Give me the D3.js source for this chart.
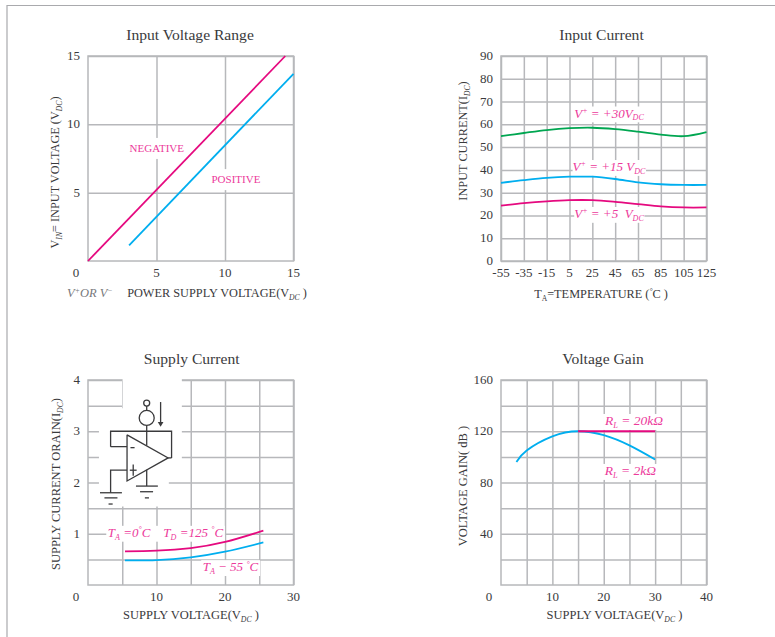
<!DOCTYPE html>
<html>
<head>
<meta charset="utf-8">
<script src="https://cdn.jsdelivr.net/npm/d3@7"></script>
<style>
html, body { margin: 0; padding: 0; background: #fff; }
svg { display: block; }
text { font-family: "Liberation Serif", serif; fill: #3a3a3c; }
</style>
</head>
<body>
<div id="chart"></div>
<script>
var width = 775,
    height = 637;
var PINK = "#e5097f",
    CYAN = "#00aeef",
    GREEN = "#00a651",
    LABEL = "#ec3a9b",
    GRID = "#b7b8bb";

// Input Voltage Range
var rangeSupply = [5, 10, 15];
var rangeNegativeX = [0, 14.4];
var rangeNegativeY = [0, 15];
var rangePositiveX = [3, 15];
var rangePositiveY = [1.15, 13.7];

// Input Current
var tempTicks = [-55, -35, -15, 5, 25, 45, 65, 85, 105, 125];
var currentTicks = [0, 10, 20, 30, 40, 50, 60, 70, 80, 90];
var current30 = [54.8, 56.2, 57.5, 58.3, 58.5, 57.9, 56.8, 55.5, 54.8, 56.6];
var current15 = [34.3, 35.5, 36.5, 37, 37, 36, 34.5, 33.7, 33.4, 33.4];
var current5 = [24.3, 25.4, 26.2, 26.7, 26.7, 26, 25, 24, 23.5, 23.5];

// Supply Current
var supplyX = [5.4, 10, 15, 20, 25.6];
var supplyHot = [0.655, 0.67, 0.72, 0.84, 1.06];
var supplyCold = [0.48, 0.485, 0.54, 0.65, 0.83];
var supplyGridX = [5, 10, 15, 20, 25, 30];
var supplyGridY = [0.5, 1, 1.5, 2, 2.5, 3, 3.5, 4];
var supplyLabelX = [10, 20, 30];
var supplyLabelY = [1, 2, 3, 4];

// Voltage Gain
var gainX = [3, 5, 10, 15, 20, 25, 30];
var gain2k = [96, 105, 116, 120, 117, 109, 98];
var gain20kX = [15, 30];
var gain20k = [120, 120];
var gainGridX = [5, 10, 15, 20, 25, 30, 35, 40];
var gainGridY = [20, 40, 60, 80, 100, 120, 140, 160];
var gainLabelX = [10, 20, 30, 40];
var gainLabelY = [40, 80, 120, 160];

var svg = d3.select("#chart").append("svg")
    .attr("width", width)
    .attr("height", height);

// page frame
svg.append("path")
    .attr("d", d3.line()([[7, height], [7, 5.5], [width, 5.5]]))
    .attr("fill", "none")
    .attr("stroke", "#a9aaad")
    .attr("stroke-width", 1.2);

// one panel: grid comes from the axes, labels are added separately
function panel(o) {
    var x = d3.scaleLinear().domain(o.xDomain).range([0, 205.5]);
    var y = d3.scaleLinear().domain(o.yDomain).range([205, 0]);
    var g = svg.append("g").attr("transform", "translate(" + o.left + "," + o.top + ")");

    g.append("g")
        .attr("transform", "translate(0,205)")
        .call(d3.axisBottom(x).tickValues(o.xGrid).tickSize(-205).tickFormat(""))
        .call(gridStyle);
    g.append("g")
        .call(d3.axisLeft(y).tickValues(o.yGrid).tickSize(-205.5).tickFormat(""))
        .call(gridStyle);

    g.append("rect")
        .attr("width", 205.5)
        .attr("height", 205)
        .attr("fill", "none")
        .attr("stroke", GRID)
        .attr("stroke-width", 1.5);

    g.append("text")
        .attr("x", o.titleX)
        .attr("y", -16.5)
        .attr("text-anchor", "middle")
        .style("font-size", "15.6px")
        .text(o.title);

    // tick labels
    g.selectAll(".xlab").data(o.xLabels).enter().append("text")
        .attr("x", function(d) { return x(d); })
        .attr("y", 221)
        .attr("text-anchor", "middle")
        .style("font-size", "13px")
        .text(function(d) { return d; });
    g.selectAll(".ylab").data(o.yLabels).enter().append("text")
        .attr("x", -8)
        .attr("y", function(d) { return y(d) + 4; })
        .attr("text-anchor", "end")
        .style("font-size", "13px")
        .text(function(d) { return d; });

    return { g: g, x: x, y: y };
}

function gridStyle(sel) {
    sel.select(".domain").remove();
    sel.selectAll("line").attr("stroke", GRID).attr("stroke-width", 1.5);
}

function curve(p, xs, ys, color, kind) {
    var line = d3.line()
        .x(function(d) { return p.x(d[0]); })
        .y(function(d) { return p.y(d[1]); })
        .curve(kind || d3.curveLinear);
    p.g.append("path")
        .attr("d", line(d3.zip(xs, ys)))
        .attr("fill", "none")
        .attr("stroke", color)
        .attr("stroke-width", 1.8);
}

// runs are [text, style]; style "i" italic, "s" italic subscript, "u" superscript, "b" plain subscript
function rich(parent, runs, size) {
    var t = parent.append("text").style("font-size", size + "px");
    var shift = 0;
    runs.forEach(function(r) {
        var want = r[1] === "s" || r[1] === "b" ? size * 0.22 : r[1] === "u" ? -size * 0.35 : 0;
        t.append("tspan")
            .attr("dy", want - shift)
            .style("font-size", (want ? size * 0.62 : size) + "px")
            .style("font-style", r[1] === "i" || r[1] === "s" || r[1] === "u" ? "italic" : "normal")
            .text(r[0]);
        shift = want;
    });
    return t;
}

// coloured note with a white patch that cuts the grid behind it
function note(p, xv, yv, runs, size, pad, padY) {
    var wrap = p.g.append("g");
    var patch = wrap.append("rect").attr("fill", "#fff");
    var t = rich(wrap, runs, size)
        .attr("x", p.x(xv))
        .attr("y", p.y(yv))
        .attr("text-anchor", "middle");
    t.style("fill", LABEL);
    t.selectAll("tspan").style("fill", LABEL);
    var b = t.node().getBBox();
    var py = padY || 0;
    patch.attr("x", b.x - pad).attr("y", b.y + 1 - py).attr("width", b.width + pad * 2).attr("height", b.height - 1 + py * 2);
}

function xTitle(p, cx, cy, runs, size) {
    rich(p.g, runs, size).attr("x", cx).attr("y", cy).attr("text-anchor", "middle");
}

function yTitle(p, cx, cy, runs, size) {
    rich(p.g, runs, size)
        .attr("text-anchor", "middle")
        .attr("transform", "translate(" + cx + "," + cy + ") rotate(-90)");
}

function cornerZero(p) {
    p.g.append("text")
        .attr("x", -12)
        .attr("y", 221)
        .attr("text-anchor", "middle")
        .style("font-size", "13px")
        .text("0");
}

// Input Voltage Range
var p1 = panel({
    left: 88, top: 56, xDomain: [0, 15], yDomain: [0, 15],
    xGrid: rangeSupply, yGrid: rangeSupply,
    xLabels: rangeSupply, yLabels: rangeSupply,
    title: "Input Voltage Range", titleX: 102
});
note(p1, 5.02, 7.98, [["NEGATIVE"]], 11, 1, 5);
note(p1, 10.8, 5.7, [["POSITIVE"]], 11, 1, 5);
curve(p1, rangeNegativeX, rangeNegativeY, PINK);
curve(p1, rangePositiveX, rangePositiveY, CYAN);
cornerZero(p1);
var v1 = rich(p1.g, [["V", "i"], ["+", "u"], ["OR V", "i"], ["\u2212", "u"]], 12.5).attr("x", -21).attr("y", 241);
v1.selectAll("tspan").style("fill", "#77787b");
xTitle(p1, 129, 241, [["POWER SUPPLY VOLTAGE(V"], ["DC", "s"], [" )"]], 12.3);
yTitle(p1, -29, 116.5, [["V"], ["IN", "s"], ["= INPUT VOLTAGE (V"], ["DC", "s"], [")"]], 12.3);

// Input Current
var p2 = panel({
    left: 501, top: 56, xDomain: [-55, 125], yDomain: [0, 90],
    xGrid: tempTicks, yGrid: currentTicks,
    xLabels: tempTicks, yLabels: currentTicks,
    title: "Input Current", titleX: 100.5
});
note(p2, 39.6, 63, [["V", "i"], ["+", "u"], [" = +30", "i"], ["V", "i"], ["DC", "s"]], 13, 0);
note(p2, 39.6, 39.5, [["V", "i"], ["+", "u"], [" = +15 ", "i"], ["V", "i"], ["DC", "s"]], 13, 0);
note(p2, 39.6, 18.9, [["V", "i"], ["+", "u"], [" = +5\u00a0 ", "i"], ["V", "i"], ["DC", "s"]], 13, 0);
curve(p2, tempTicks, current30, GREEN, d3.curveCatmullRom);
curve(p2, tempTicks, current15, CYAN, d3.curveCatmullRom);
curve(p2, tempTicks, current5, PINK, d3.curveCatmullRom);
xTitle(p2, 100, 242, [["T"], ["A", "b"], ["=TEMPERATURE ("], ["\u00b0", "u"], ["C )"]], 12.3);
yTitle(p2, -34, 85, [["INPUT CURRENT(I"], ["DC", "s"], [")"]], 12.3);

// Supply Current
var p3 = panel({
    left: 88, top: 380, xDomain: [0, 30], yDomain: [0, 4],
    xGrid: supplyGridX, yGrid: supplyGridY,
    xLabels: supplyLabelX, yLabels: supplyLabelY,
    title: "Supply Current", titleX: 103.7
});

// clearing behind the schematic, in axis units
var clearing = [[5.05, 4.03], [13.7, 4.03], [13.7, 2.35], [11.8, 2.35], [11.8, 1.53], [1.6, 1.53], [1.6, 3.45], [5.05, 3.45]];
p3.g.append("polygon")
    .attr("points", clearing.map(function(d) { return [p3.x(d[0]), p3.y(d[1])]; }).join(" "))
    .attr("fill", "#fff");

// schematic drawn in axis units as well
var wires = [
    [[8.57, 3.11], [8.57, 3]],
    [[8.57, 3.41], [8.57, 3.5]],
    [[3.3, 2.7], [3.3, 3], [12.2, 3], [12.2, 2.48]],
    [[3.3, 2.7], [5.7, 2.7]],
    [[5.7, 2.24], [3.3, 2.24], [3.3, 1.8]],
    [[5.7, 2.93], [5.7, 2.03], [11.7, 2.48], [5.7, 2.93]],
    [[11.7, 2.48], [12.2, 2.48]],
    [[8.57, 2.72], [8.57, 3]],
    [[8.57, 2.25], [8.57, 1.93]],
    [[7, 1.93], [10.2, 1.93]],
    [[7.6, 1.82], [9.5, 1.82]],
    [[8.3, 1.7], [8.9, 1.7]],
    [[1.75, 1.8], [4.95, 1.8]],
    [[2.4, 1.7], [4.3, 1.7]],
    [[3, 1.58], [3.6, 1.58]],
    [[10.6, 3.57], [10.6, 3.15]],
    [[6.2, 2.68], [6.8, 2.68]],
    [[6.1, 2.24], [7.1, 2.24]],
    [[6.6, 2.13], [6.6, 2.35]]
];
p3.g.selectAll(".wire").data(wires).enter().append("path")
    .attr("d", function(d) { return d3.line()(d.map(function(q) { return [p3.x(q[0]), p3.y(q[1])]; })); })
    .attr("fill", "none")
    .attr("stroke", "#3a3a3c")
    .attr("stroke-width", 1.3);
var rings = [[8.57, 3.26, 7.5], [8.57, 3.55, 3]];
p3.g.selectAll(".ring").data(rings).enter().append("circle")
    .attr("cx", function(d) { return p3.x(d[0]); })
    .attr("cy", function(d) { return p3.y(d[1]); })
    .attr("r", function(d) { return d[2]; })
    .attr("fill", "#fff")
    .attr("stroke", "#3a3a3c")
    .attr("stroke-width", 1.3);
p3.g.append("path")
    .attr("d", d3.symbol().type(d3.symbolTriangle).size(14))
    .attr("transform", "translate(" + p3.x(10.6) + "," + p3.y(3.15) + ") rotate(180)")
    .attr("fill", "#3a3a3c");

// both temperatures sit in one gap of the 1 mA grid line
note(p3, 11.3, 0.94, [["T", "i"], ["A", "s"], [" =0", "i"], ["\u00b0", "u"], ["C\u00a0\u00a0\u00a0\u00a0", "i"], ["T", "i"], ["D", "s"], [" =125 ", "i"], ["\u00b0", "u"], ["C", "i"]], 13, 1.5);
note(p3, 20.8, 0.27, [["T", "i"], ["A", "s"], [" \u2212 55 ", "i"], ["\u00b0", "u"], ["C", "i"]], 13, 1.5);
curve(p3, supplyX, supplyHot, PINK, d3.curveNatural);
curve(p3, supplyX, supplyCold, CYAN, d3.curveNatural);
cornerZero(p3);
xTitle(p3, 103, 239, [["SUPPLY VOLTAGE(V"], ["DC", "s"], [" )"]], 12.5);
yTitle(p3, -28, 104, [["SUPPLY CURRENT ORAIN(I"], ["DC", "s"], [")"]], 12.5);

// Voltage Gain
var p4 = panel({
    left: 501, top: 380, xDomain: [0, 40], yDomain: [0, 160],
    xGrid: gainGridX, yGrid: gainGridY,
    xLabels: gainLabelX, yLabels: gainLabelY,
    title: "Voltage Gain", titleX: 102
});
note(p4, 25.9, 124.9, [["R", "i"], ["L", "s"], [" = 20", "i"], ["k\u03a9", "i"]], 13.5, 1);
note(p4, 25.2, 85.9, [["R", "i"], ["L", "s"], [" = 2", "i"], ["k\u03a9", "i"]], 13.5, 1);
curve(p4, gainX, gain2k, CYAN, d3.curveNatural);
curve(p4, gain20kX, gain20k, PINK);
cornerZero(p4);
xTitle(p4, 113.5, 239, [["SUPPLY VOLTAGE(V"], ["DC", "s"], [" )"]], 12.5);
yTitle(p4, -34, 106, [["VOLTAGE GAIN( dB )"]], 12.5);
</script>
</body>
</html>
